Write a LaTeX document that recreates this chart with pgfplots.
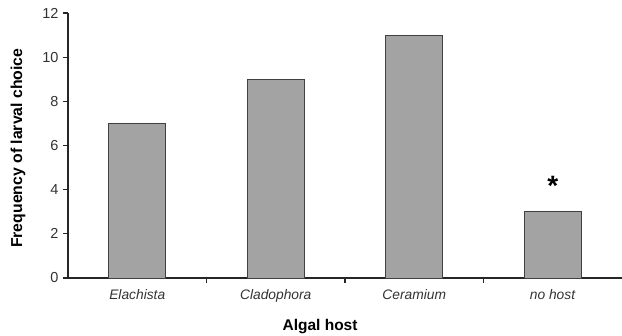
\documentclass[border=0pt]{standalone}
\usepackage{fontspec}
\setmainfont{Liberation Sans}
\usepackage{pgfplots}
\pgfplotsset{compat=1.18}
\begin{document}
\begin{tikzpicture}
\path[use as bounding box] (0pt,0pt) rectangle (622pt,-336pt);
\begin{axis}[
  at={(68pt,-278pt)}, anchor=south west,
  scale only axis, width=554pt, height=265pt,
  xmin=-0.5, xmax=3.5, ymin=0, ymax=12,
  axis x line*=bottom, axis y line*=left,
  axis line style={line width=1.1pt, black!85},
  ytick={0,2,...,12},
  xtick={0,1,2,3},
  xticklabels={\textit{Elachista},\textit{Cladophora},\textit{Ceramium},\textit{no host}},
  minor xtick={0.5,1.5,2.5},
  tick align=outside,
  major tick length=5pt, minor tick length=5pt,
  major x tick style={draw=none},
  minor x tick style={line width=1.1pt, black!85},
  major y tick style={line width=1.1pt, black!85},
  /pgf/number format/assume math mode=true,
  xticklabel style={font=\fontsize{13.8}{16}\selectfont, text=black!80, yshift=-3pt},
  yticklabel style={font=\fontsize{14.5}{17}\selectfont, text=black!80, xshift=-1pt},
  xlabel={\textbf{Algal host}},
  ylabel={\textbf{Frequency of larval choice}},
  xlabel style={font=\fontsize{15.5}{18}\selectfont, at={(axis description cs:0.455,-0.185)}, anchor=center},
  ylabel style={font=\fontsize{15.8}{18}\selectfont, at={(axis description cs:-0.09,0.49)}, anchor=center},
  clip=false,
]
\addplot[ybar, bar width=57pt, fill=black!36, draw=black!75, line width=0.8pt]
  coordinates {(0,7) (1,9) (2,11) (3,3)};
\addplot[draw=none, mark=none, nodes near coords={\textbf{*}},
  every node near coord/.append style={anchor=base, yshift=15.8pt, font=\fontsize{28}{30}\selectfont, inner sep=0pt}]
  coordinates {(3,3)};
\end{axis}
\end{tikzpicture}
\end{document}
